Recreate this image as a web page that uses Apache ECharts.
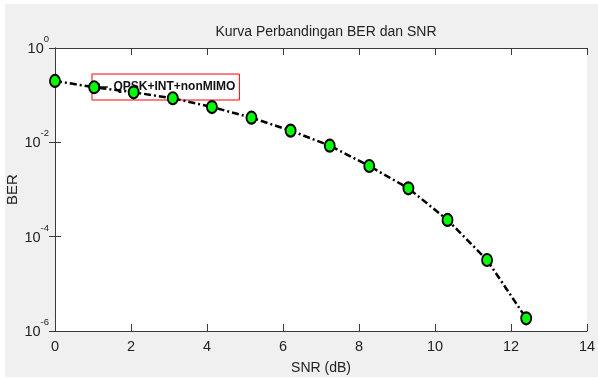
<!DOCTYPE html>
<html>
<head>
<meta charset="utf-8">
<title>Kurva Perbandingan BER dan SNR</title>
<script src="https://cdn.jsdelivr.net/npm/echarts@6/dist/echarts.min.js"></script>
<style>
  html, body { margin: 0; padding: 0; background: #fff; }
  #chart { width: 598px; height: 379px; }
</style>
</head>
<body>
<div id="chart"></div>
<script>
// data
const snr = [0, 1.03, 2.07, 3.1, 4.13, 5.17, 6.2, 7.23, 8.27, 9.3, 10.33, 11.37, 12.4]
const ber = [0.2, 0.147, 0.115, 0.086, 0.056, 0.0333, 0.0177, 0.0085, 0.00315, 0.00106, 2.26e-4, 3.2e-5, 1.86e-6]
const xTicks = [0, 2, 4, 6, 8, 10, 12, 14]
const yExponents = [0, -2, -4, -6]
const seriesName = 'QPSK+INT+nonMIMO'

const FONT = '"Liberation Sans", Arial, sans-serif'
const axisColor = '#3a3a3a'
const textColor = '#222'

const chart = echarts.init(document.getElementById('chart'))

const pts = snr.map((x, i) => [x, ber[i]])

const baseX = {
  type: 'value',
  min: xTicks[0],
  max: xTicks[xTicks.length - 1],
  interval: 2,
  splitLine: { show: false },
  axisLine: { lineStyle: { color: axisColor, width: 1 } },
  axisTick: { inside: true, length: 7, lineStyle: { color: axisColor } }
}
const baseY = {
  type: 'log',
  logBase: 10,
  min: Math.pow(10, yExponents[yExponents.length - 1]),
  max: Math.pow(10, yExponents[0]),
  interval: 2,
  splitLine: { show: false },
  axisLine: { lineStyle: { color: axisColor, width: 1 } },
  axisTick: { inside: true, length: 6, lineStyle: { color: axisColor } }
}

chart.setOption({
  backgroundColor: '#fff',
  animation: false,
  graphic: [{
    type: 'rect',
    z: -10,
    silent: true,
    shape: { x: 5, y: 4, width: 593, height: 373 },
    style: { fill: '#f0f0f0' }
  }],
  title: {
    text: 'Kurva Perbandingan BER dan SNR',
    left: 321,
    top: 20,
    textAlign: 'center',
    textStyle: { fontFamily: FONT, fontSize: 14, fontWeight: 'normal', color: textColor }
  },
  legend: {
    data: [seriesName],
    left: 92,
    top: 74,
    z: 4,
    // arrow pointing back at the curve, like the \leftarrow text label
    icon: 'path://M0,5 L6,0 L6,4 L16,4 L16,6 L6,6 L6,10 Z',
    itemWidth: 14,
    itemHeight: 8,
    itemGap: 0,
    itemStyle: { color: '#111', borderWidth: 0 },
    padding: [5, 4, 5, 3],
    borderColor: '#ff0000',
    borderWidth: 1,
    textStyle: { fontFamily: FONT, fontSize: 12, fontWeight: 'bold', color: '#111', lineHeight: 16 }
  },
  grid: {
    left: 55,
    right: 11,
    top: 48,
    bottom: 48,
    containLabel: false,
    outerBoundsMode: 'none',
    show: true,
    backgroundColor: '#fff',
    borderWidth: 0
  },
  xAxis: [
    Object.assign({}, baseX, {
      position: 'bottom',
      name: 'SNR (dB)',
      nameLocation: 'middle',
      nameGap: 30,
      nameMoveOverlap: false,
      nameTextStyle: { fontFamily: FONT, fontSize: 14, color: textColor },
      axisLabel: { fontFamily: FONT, fontSize: 14.5, color: textColor, margin: 8 }
    }),
    Object.assign({}, baseX, {
      position: 'top',
      axisLabel: { show: false }
    })
  ],
  yAxis: [
    Object.assign({}, baseY, {
      position: 'left',
      name: 'BER',
      nameLocation: 'middle',
      nameGap: 35,
      nameMoveOverlap: false,
      nameTextStyle: { fontFamily: FONT, fontSize: 15, color: textColor },
      axisLabel: {
        margin: 6,
        formatter: v => '{a|10}{b|' + Math.round(Math.log10(v)) + '}',
        rich: {
          a: { fontFamily: FONT, fontSize: 14.5, color: textColor, padding: [7, 0, 5, 0], verticalAlign: 'bottom' },
          b: { fontFamily: FONT, fontSize: 9.5, color: textColor, lineHeight: 10, verticalAlign: 'top' }
        }
      }
    }),
    Object.assign({}, baseY, {
      position: 'right',
      axisLabel: { show: false }
    })
  ],
  series: [{
    name: seriesName,
    type: 'line',
    xAxisIndex: 0,
    yAxisIndex: 0,
    data: pts,
    symbol: 'circle',
    symbolSize: [10, 12],
    itemStyle: { color: '#00ff00', borderColor: '#000', borderWidth: 2 },
    lineStyle: { color: '#000', width: 2.5, type: [7, 3, 2, 3] },
    z: 6
  }]
})
</script>
</body>
</html>
